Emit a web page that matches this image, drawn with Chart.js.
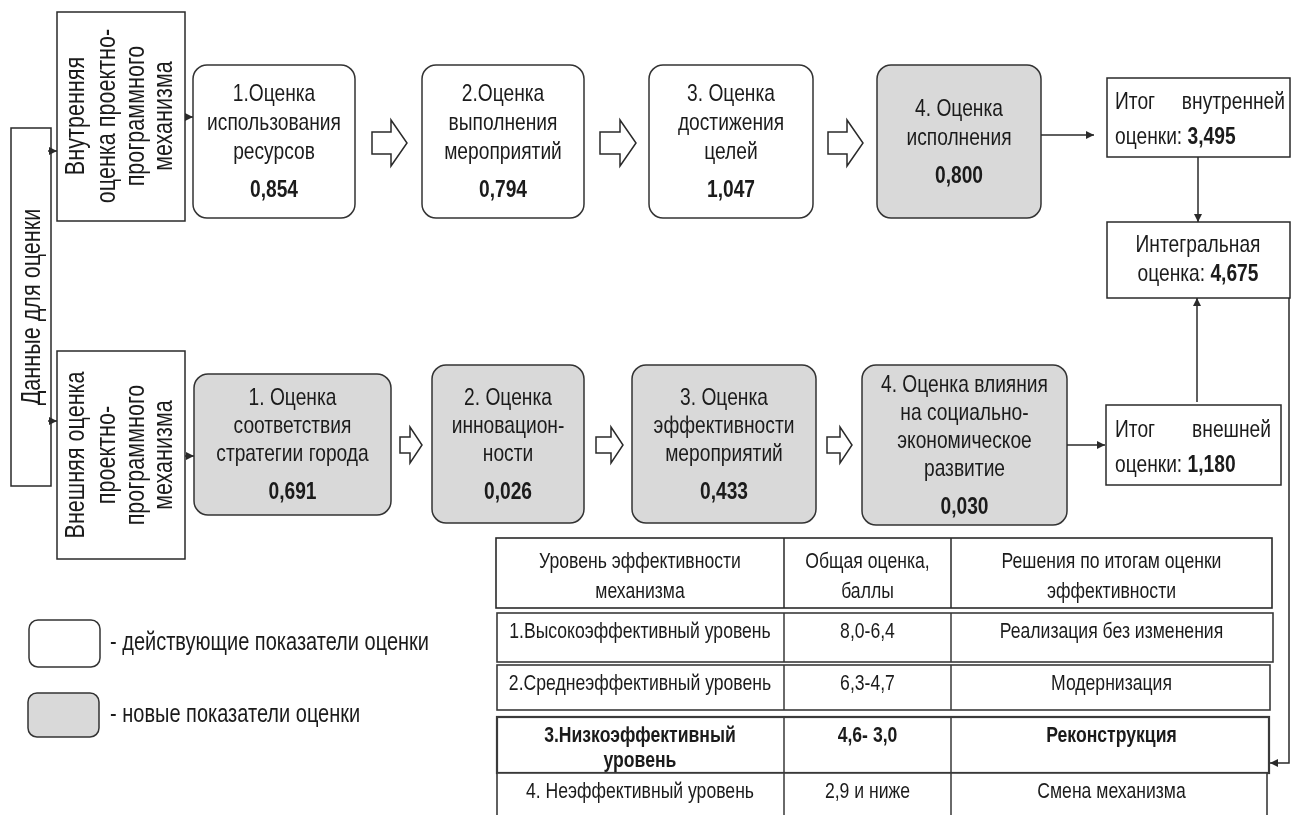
<!DOCTYPE html>
<html lang="ru">
<head>
<meta charset="utf-8">
<title>Оценка эффективности проектно-программного механизма</title>
<script src="https://cdn.jsdelivr.net/npm/chart.js@4.4.1/dist/chart.umd.min.js"></script>
<style>
  html, body { margin: 0; padding: 0; background: #fff; }
  #wrap { width: 1300px; height: 815px; }
</style>
</head>
<body>
<div id="wrap"><canvas id="scheme" width="1300" height="815"></canvas></div>
<script>
const sourceLabel = 'Данные для оценки';
const internalLabel = ['Внутренняя', 'оценка проектно-', 'программного', 'механизма'];
const externalLabel = ['Внешняя оценка', 'проектно-', 'программного', 'механизма'];

const internalStages = [
  ['1.Оценка', 'использования', 'ресурсов'],
  ['2.Оценка', 'выполнения', 'мероприятий'],
  ['3. Оценка', 'достижения', 'целей'],
  ['4. Оценка', 'исполнения']
];
const internalScores = [0.854, 0.794, 1.047, 0.800];
const internalIsNew = [false, false, false, true];

const externalStages = [
  ['1. Оценка', 'соответствия', 'стратегии города'],
  ['2. Оценка', 'инновацион-', 'ности'],
  ['3. Оценка', 'эффективности', 'мероприятий'],
  ['4. Оценка влияния', 'на социально-', 'экономическое', 'развитие']
];
const externalScores = [0.691, 0.026, 0.433, 0.030];
const externalIsNew = [true, true, true, true];

const internalTotal = 3.495;
const externalTotal = 1.180;
const integralScore = 4.675;

const tableHeader = [
  ['Уровень эффективности', 'механизма'],
  ['Общая оценка,', 'баллы'],
  ['Решения по итогам оценки', 'эффективности']
];
const levelNames = [
  ['1.Высокоэффективный уровень'],
  ['2.Среднеэффективный уровень'],
  ['3.Низкоэффективный', 'уровень'],
  ['4. Неэффективный уровень']
];
const levelRanges = ['8,0-6,4', '6,3-4,7', '4,6- 3,0', '2,9 и ниже'];
const levelDecisions = ['Реализация без изменения', 'Модернизация', 'Реконструкция', 'Смена механизма'];
const currentLevel = 2;

const legendLabels = ['- действующие показатели оценки', '- новые показатели оценки'];

// --- layout (in scale units, x 0..1300, y 0..815 top-down) ---
const topBoxes = [[193, 65, 355, 218], [422, 65, 584, 218], [649, 65, 813, 218], [877, 65, 1041, 218]];
const bottomBoxes = [[194, 374, 391, 515], [432, 365, 584, 523], [632, 365, 816, 523], [862, 365, 1067, 525]];
const topArrows = [[372, 407], [600, 636], [828, 863]];
const bottomArrows = [[400, 422], [596, 623], [827, 852]];
const tableCols = [496, 784, 951];
const tableRows = [[538, 608, 1272], [613, 662, 1273], [665, 710, 1270], [717, 773, 1269], [773, 818, 1267]];

const FONT = '"Liberation Sans", Arial, sans-serif';
const NARROW = 0.8;
const INK = '#1b1b1b';
const LINE = '#2a2a2a';
const NEW_FILL = '#d9d9d9';

const fmt = v => v.toFixed(3).replace('.', ',');

const setFont = (ctx, size, bold) => {
  ctx.font = (bold ? 'bold ' : '') + size + 'px ' + FONT;
};

const drawText = (ctx, str, x, y, size, bold, align, rot) => {
  ctx.save();
  setFont(ctx, size, bold);
  ctx.fillStyle = INK;
  ctx.textBaseline = 'middle';
  ctx.textAlign = align || 'center';
  ctx.translate(x, y);
  if (rot) ctx.rotate(rot);
  ctx.scale(NARROW, 1);
  ctx.fillText(str, 0, 0);
  ctx.restore();
};

// text made of plain and bold pieces
const drawRuns = (ctx, runs, x, y, size, align) => {
  const widths = runs.map(r => {
    setFont(ctx, size, r.bold);
    return ctx.measureText(r.t).width * NARROW;
  });
  const total = widths.reduce((a, b) => a + b, 0);
  let cx = align === 'left' ? x : align === 'right' ? x - total : x - total / 2;
  runs.forEach((r, i) => {
    drawText(ctx, r.t, cx, y, size, r.bold, 'left');
    cx += widths[i];
  });
};

const roundRect = (ctx, x0, y0, x1, y1, r) => {
  ctx.beginPath();
  ctx.moveTo(x0 + r, y0);
  ctx.lineTo(x1 - r, y0);
  ctx.arcTo(x1, y0, x1, y0 + r, r);
  ctx.lineTo(x1, y1 - r);
  ctx.arcTo(x1, y1, x1 - r, y1, r);
  ctx.lineTo(x0 + r, y1);
  ctx.arcTo(x0, y1, x0, y1 - r, r);
  ctx.lineTo(x0, y0 + r);
  ctx.arcTo(x0, y0, x0 + r, y0, r);
  ctx.closePath();
};

const arrowLine = (ctx, pts) => {
  ctx.save();
  ctx.strokeStyle = LINE;
  ctx.fillStyle = LINE;
  ctx.lineWidth = 1.5;
  ctx.beginPath();
  ctx.moveTo(pts[0][0], pts[0][1]);
  for (let i = 1; i < pts.length; i++) ctx.lineTo(pts[i][0], pts[i][1]);
  ctx.stroke();
  const [ax, ay] = pts[pts.length - 2];
  const [bx, by] = pts[pts.length - 1];
  const a = Math.atan2(by - ay, bx - ax);
  ctx.translate(bx, by);
  ctx.rotate(a);
  ctx.beginPath();
  ctx.moveTo(0, 0);
  ctx.lineTo(-8, -4);
  ctx.lineTo(-8, 4);
  ctx.closePath();
  ctx.fill();
  ctx.restore();
};

const hollowArrow = (ctx, x0, x1, cy, shaft, head, headLen) => {
  const xh = x1 - headLen;
  ctx.save();
  ctx.strokeStyle = LINE;
  ctx.lineWidth = 1.5;
  ctx.fillStyle = '#fff';
  ctx.beginPath();
  ctx.moveTo(x0, cy - shaft);
  ctx.lineTo(xh, cy - shaft);
  ctx.lineTo(xh, cy - head);
  ctx.lineTo(x1, cy);
  ctx.lineTo(xh, cy + head);
  ctx.lineTo(xh, cy + shaft);
  ctx.lineTo(x0, cy + shaft);
  ctx.closePath();
  ctx.fill();
  ctx.stroke();
  ctx.restore();
};

const schemePlugin = {
  id: 'scheme',
  afterDraw(chart) {
    const ctx = chart.ctx;
    const X = v => chart.scales.x.getPixelForValue(v);
    const Y = v => chart.scales.y.getPixelForValue(v);

    const rect = (b, fill, lw) => {
      ctx.save();
      ctx.fillStyle = fill || '#fff';
      ctx.strokeStyle = LINE;
      ctx.lineWidth = lw || 1.5;
      ctx.fillRect(X(b[0]), Y(b[1]), X(b[2]) - X(b[0]), Y(b[3]) - Y(b[1]));
      ctx.strokeRect(X(b[0]), Y(b[1]), X(b[2]) - X(b[0]), Y(b[3]) - Y(b[1]));
      ctx.restore();
    };

    const stageBox = (b, lines, score, isNew, sp) => {
      ctx.save();
      roundRect(ctx, X(b[0]), Y(b[1]), X(b[2]), Y(b[3]), 14);
      ctx.fillStyle = isNew ? NEW_FILL : '#fff';
      ctx.fill();
      ctx.strokeStyle = '#333';
      ctx.lineWidth = 1.5;
      ctx.stroke();
      ctx.restore();
      const gap = 38;
      const cx = (b[0] + b[2]) / 2;
      const cy = (b[1] + b[3]) / 2 + 1;
      const first = cy - ((lines.length - 1) * sp + gap) / 2;
      lines.forEach((t, i) => drawText(ctx, t, X(cx), Y(first + i * sp), 24, false));
      drawText(ctx, fmt(score), X(cx), Y(first + (lines.length - 1) * sp + gap), 24, true);
    };

    // source box with vertical caption
    rect([11, 128, 51, 486]);
    drawText(ctx, sourceLabel, X(33), Y(307), 27, false, 'center', -Math.PI / 2);

    // internal / external mechanism boxes
    rect([57, 12, 185, 221]);
    rect([57, 351, 185, 559]);
    const rotX = [77, 108, 137, 165];
    internalLabel.forEach((t, i) => drawText(ctx, t, X(rotX[i]), Y(116), 27, false, 'center', -Math.PI / 2));
    externalLabel.forEach((t, i) => drawText(ctx, t, X(rotX[i]), Y(455), 27, false, 'center', -Math.PI / 2));

    arrowLine(ctx, [[X(48), Y(151)], [X(57), Y(151)]]);
    arrowLine(ctx, [[X(48), Y(421)], [X(57), Y(421)]]);
    arrowLine(ctx, [[X(185), Y(117)], [X(193), Y(117)]]);
    arrowLine(ctx, [[X(185), Y(456)], [X(194), Y(456)]]);

    // stage boxes
    internalStages.forEach((l, i) => stageBox(topBoxes[i], l, internalScores[i], internalIsNew[i], 29));
    externalStages.forEach((l, i) => stageBox(bottomBoxes[i], l, externalScores[i], externalIsNew[i], 28));
    topArrows.forEach(a => hollowArrow(ctx, X(a[0]), X(a[1]), Y(143), 11, 23, 16));
    bottomArrows.forEach(a => hollowArrow(ctx, X(a[0]), X(a[1]), Y(445), 8, 18, 12));

    // totals
    rect([1107, 78, 1290, 157]);
    drawText(ctx, 'Итог', X(1115), Y(102), 24, false, 'left');
    drawText(ctx, 'внутренней', X(1285), Y(102), 24, false, 'right');
    drawRuns(ctx, [{ t: 'оценки: ', bold: false }, { t: fmt(internalTotal), bold: true }], X(1115), Y(137), 24, 'left');

    rect([1107, 222, 1290, 298]);
    drawText(ctx, 'Интегральная', X(1198), Y(245), 24, false);
    drawRuns(ctx, [{ t: 'оценка: ', bold: false }, { t: fmt(integralScore), bold: true }], X(1198), Y(274), 24, 'center');

    rect([1106, 405, 1281, 485]);
    drawText(ctx, 'Итог', X(1115), Y(430), 24, false, 'left');
    drawText(ctx, 'внешней', X(1271), Y(430), 24, false, 'right');
    drawRuns(ctx, [{ t: 'оценки: ', bold: false }, { t: fmt(externalTotal), bold: true }], X(1115), Y(465), 24, 'left');

    arrowLine(ctx, [[X(1041), Y(135)], [X(1094), Y(135)]]);
    arrowLine(ctx, [[X(1067), Y(445)], [X(1105), Y(445)]]);
    arrowLine(ctx, [[X(1198), Y(157)], [X(1198), Y(222)]]);
    arrowLine(ctx, [[X(1197), Y(402)], [X(1197), Y(298)]]);
    arrowLine(ctx, [[X(1289), Y(298)], [X(1289), Y(763)], [X(1270), Y(763)]]);

    // table of efficiency levels
    tableRows.forEach((r, i) => {
      const bold = i - 1 === currentLevel;
      const left = i === 0 ? tableCols[0] : tableCols[0] + 1;
      ctx.save();
      ctx.fillStyle = '#fff';
      ctx.strokeStyle = i === 0 ? LINE : '#3a3a3a';
      ctx.lineWidth = bold ? 2.2 : 1.6;
      ctx.fillRect(X(left), Y(r[0]), X(r[2]) - X(left), Y(r[1]) - Y(r[0]));
      ctx.strokeRect(X(left), Y(r[0]), X(r[2]) - X(left), Y(r[1]) - Y(r[0]));
      ctx.beginPath();
      ctx.lineWidth = 1.5;
      ctx.moveTo(X(tableCols[1]), Y(r[0]));
      ctx.lineTo(X(tableCols[1]), Y(r[1]));
      ctx.moveTo(X(tableCols[2]), Y(r[0]));
      ctx.lineTo(X(tableCols[2]), Y(r[1]));
      ctx.stroke();
      ctx.restore();
    });
    const colCenter = [
      (tableCols[0] + tableCols[1]) / 2,
      (tableCols[1] + tableCols[2]) / 2,
      (tableCols[2] + tableRows[0][2]) / 2
    ];
    tableHeader.forEach((lines, c) => {
      lines.forEach((t, k) => drawText(ctx, t, X(colCenter[c]), Y(562 + k * 30), 22, false));
    });
    levelNames.forEach((lines, i) => {
      const r = tableRows[i + 1];
      const ty = r[0] + 19;
      const bold = i === currentLevel;
      lines.forEach((t, k) => drawText(ctx, t, X(colCenter[0]), Y(ty + k * 25), 22, bold));
      drawText(ctx, levelRanges[i], X(colCenter[1]), Y(ty), 22, bold);
      drawText(ctx, levelDecisions[i], X(colCenter[2]), Y(ty), 22, bold);
    });

    // legend
    ctx.save();
    roundRect(ctx, X(29), Y(620), X(100), Y(667), 9);
    ctx.fillStyle = '#fff';
    ctx.fill();
    ctx.strokeStyle = '#333';
    ctx.lineWidth = 1.5;
    ctx.stroke();
    roundRect(ctx, X(28), Y(693), X(99), Y(737), 9);
    ctx.fillStyle = NEW_FILL;
    ctx.fill();
    ctx.stroke();
    ctx.restore();
    drawText(ctx, legendLabels[0], X(110), Y(643), 25, false, 'left');
    drawText(ctx, legendLabels[1], X(110), Y(715), 25, false, 'left');
  }
};

new Chart(document.getElementById('scheme'), {
  type: 'scatter',
  data: { datasets: [] },
  options: {
    responsive: false,
    animation: false,
    events: [],
    layout: { padding: 0 },
    plugins: { legend: { display: false }, tooltip: { enabled: false } },
    scales: {
      x: { type: 'linear', min: 0, max: 1300, display: false },
      y: { type: 'linear', min: 0, max: 815, reverse: true, display: false }
    }
  },
  plugins: [schemePlugin]
});
</script>
</body>
</html>
